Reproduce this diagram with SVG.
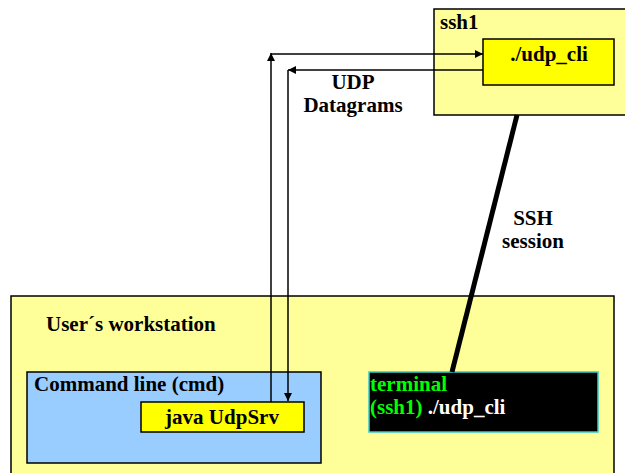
<svg xmlns="http://www.w3.org/2000/svg" width="625" height="473" viewBox="0 0 625 473">
<style>
.box{stroke:#000;stroke-width:1.5}
.ln{stroke:#000;stroke-width:1.5;fill:none}
</style>
<defs>
<marker id="ah" viewBox="0 0 10 10" refX="10" refY="5" markerWidth="8" markerHeight="8" markerUnits="userSpaceOnUse" orient="auto"><path d="M0,0 L10,5 L0,10 z" fill="#000"/></marker>
</defs>
<rect width="625" height="473" fill="#fff"/>
<g font-family="Liberation Serif" font-weight="bold" font-size="21" fill="#000">
<g id="workstation">
<rect class="box" x="11" y="296" width="603" height="185" fill="#FFFF99"/>
<text x="46" y="331">User´s workstation</text>
</g>
<g id="cmd">
<rect class="box" x="27" y="372" width="294" height="91" fill="#99CCFF"/>
<text x="34" y="391">Command line (cmd)</text>
</g>
<g id="java">
<rect class="box" x="141" y="402" width="163" height="30" fill="#FFFF00"/>
<text x="222" y="424" text-anchor="middle">java UdpSrv</text>
</g>
<g id="ssh1">
<rect class="box" x="434" y="9" width="200" height="106" fill="#FFFF99"/>
<text x="440" y="29">ssh1</text>
</g>
<g id="udpcli">
<rect class="box" x="483" y="39" width="131" height="46" fill="#FFFF00"/>
<text x="549" y="61" text-anchor="middle">./udp_cli</text>
</g>
<g id="terminal">
<rect x="369" y="372" width="229" height="60" fill="#000" stroke="#33CCCC" stroke-width="1.5"/>
<text x="370" y="391" fill="#00FF00">terminal</text>
<text x="370" y="414"><tspan fill="#00FF00">(ssh1)</tspan><tspan fill="#fff"> ./udp_cli</tspan></text>
</g>
<g id="connectors">
<polyline class="ln" points="271,402 271,53" marker-end="url(#ah)"/>
<polyline class="ln" points="271,54 483,54" marker-end="url(#ah)"/>
<polyline class="ln" points="483,70 288,70" marker-end="url(#ah)"/>
<polyline class="ln" points="288,70 288,401" marker-end="url(#ah)"/>
<line x1="517" y1="115" x2="452" y2="372" stroke="#000" stroke-width="5"/>
<text x="353" y="89" text-anchor="middle">UDP</text>
<text x="353" y="112" text-anchor="middle">Datagrams</text>
<text x="533" y="225" text-anchor="middle">SSH</text>
<text x="533" y="248" text-anchor="middle">session</text>
</g>
</g>
</svg>
